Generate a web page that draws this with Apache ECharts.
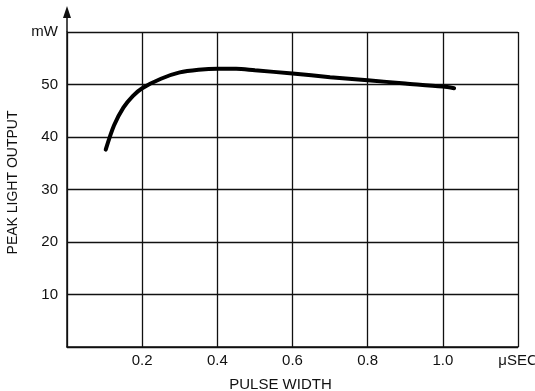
<!DOCTYPE html>
<html><head><meta charset="utf-8">
<script src="https://cdn.jsdelivr.net/npm/echarts@6/dist/echarts.min.js"></script>
<style>html,body{margin:0;padding:0;background:#fff}#c{width:535px;height:391px}</style>
</head><body><div id="c"></div>
<script>
var pulseWidth = [0.103, 0.125, 0.15, 0.175, 0.2, 0.25, 0.3, 0.35, 0.4, 0.45, 0.5, 0.6, 0.7, 0.8, 0.9, 1.0, 1.03];
var peakOutput = [37.6, 42.2, 45.6, 47.8, 49.3, 51.1, 52.3, 52.8, 53.0, 53.0, 52.7, 52.1, 51.4, 50.8, 50.2, 49.6, 49.3];
var xTickLabels = {0.2:'0.2',0.4:'0.4',0.6:'0.6',0.8:'0.8',1:'1.0',1.2:'\u03bcSEC'};
var yTickLabels = {10:'10',20:'20',30:'30',40:'40',50:'50',60:'mW'};

var data = pulseWidth.map(function(x,i){return [x, peakOutput[i]];});
var chart = echarts.init(document.getElementById('c'));
var font = 'Liberation Sans, Arial, sans-serif';
var option = {
  animation:false,
  backgroundColor:'#fff',
  grid:{left:67,right:17,top:32,bottom:44,containLabel:false,outerBoundsMode:'none'},
  xAxis:{type:'value',min:0,max:1.2,interval:0.2,
    name:'PULSE WIDTH',nameLocation:'middle',nameGap:30,
    nameTextStyle:{color:'#111',fontFamily:font,fontSize:15,padding:[0,0,0,-24]},
    axisLine:{show:true,lineStyle:{color:'#111',width:1.5}},
    axisTick:{show:false},
    axisLabel:{color:'#111',fontFamily:font,fontSize:15,margin:6,
      formatter:function(v){var k=Math.round(v*10)/10;return xTickLabels[k]||'';}},
    splitLine:{show:true,lineStyle:{color:'#111',width:1.3}}
  },
  yAxis:{type:'value',min:0,max:60,interval:10,
    name:'PEAK LIGHT OUTPUT',nameLocation:'middle',nameGap:43,nameRotate:90,
    nameTextStyle:{color:'#111',fontFamily:font,fontSize:14,padding:[0,0,0,14]},
    axisLine:{show:true,lineStyle:{color:'#111',width:1.5}},
    axisTick:{show:false},
    axisLabel:{color:'#111',fontFamily:font,fontSize:15,margin:9,
      formatter:function(v){return yTickLabels[v]||'';}},
    splitLine:{show:true,lineStyle:{color:'#111',width:1.3}}
  },
  series:[{type:'line',data:data,smooth:0.3,symbol:'none',
    lineStyle:{color:'#000',width:4,cap:'round'}}]
};
chart.setOption(option);
var tp = chart.convertToPixel({gridIndex:0},[0,60]);
chart.setOption({graphic:[
  {type:'line',shape:{x1:tp[0],y1:tp[1],x2:tp[0],y2:tp[1]-18},style:{stroke:'#111',lineWidth:1.5}},
  {type:'polygon',shape:{points:[[tp[0]-4,tp[1]-14],[tp[0]+4,tp[1]-14],[tp[0],tp[1]-26]]},style:{fill:'#111'}}
]});
</script></body></html>
